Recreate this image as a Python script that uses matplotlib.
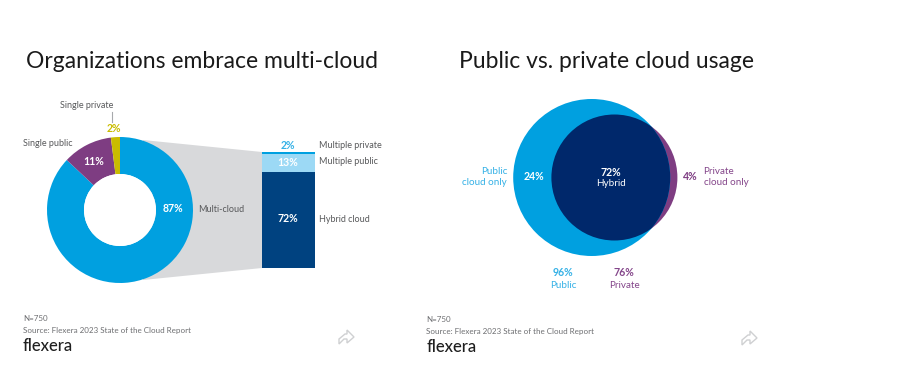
import matplotlib
matplotlib.use("Agg")
import matplotlib.pyplot as plt
from matplotlib.patches import Circle, Polygon

plt.rcParams["font.family"] = ["Lato", "DejaVu Sans"]

W, H = 900, 371

BLUE = "#00A0E0"
PURPLE = "#7E3D82"
YELLOW = "#C9BC00"
DARK_BAR = "#004280"
LIGHT_BAR = "#9CD9F5"
NAVY = "#00286B"
GREY = "#D8D9DB"
TEXT = "#58595B"
LABEL_BLUE = "#35B1E6"
LABEL_PURPLE = "#84468A"

titles = ["Organizations embrace multi-cloud", "Public vs. private cloud usage"]

donut_labels = ["Multi-cloud", "Single public", "Single private"]
donut_values = [87, 11, 2]
donut_colors = [BLUE, PURPLE, YELLOW]

bar_labels = ["Hybrid cloud", "Multiple public", "Multiple private"]
bar_values = [72, 13, 2]
bar_colors = [DARK_BAR, LIGHT_BAR, BLUE]

venn_values = {"public_only": 24, "hybrid": 72, "private_only": 4, "public": 96, "private": 76}

note = "N=750"
source = "Source: Flexera 2023 State of the Cloud Report"


def y_(y):
    return H - y


def label(x, y, s, size=6.5, color=TEXT, ha="left", weight="normal"):
    ax.text(x, y_(y), s, fontsize=size, color=color, ha=ha, va="center", fontweight=weight, zorder=6)


def pct(x, y, v, color="white"):
    label(x, y, f"{v}%", size=7.6, color=color, ha="center", weight="bold")


def share_icon(cx, cy):
    pts = [(-7, 7), (-7, 2), (-1, -3), (1, -3), (1, -7), (8, 0), (1, 6), (1, 2), (-2, 2)]
    ax.add_patch(Polygon([(cx + a, y_(cy + b)) for a, b in pts], closed=True,
                         fill=False, ec="#CFD0D2", lw=1))


fig = plt.figure(figsize=(W / 100, H / 100), dpi=100)
ax = fig.add_axes([0, 0, 1, 1])

# grey funnel behind the donut
ax.add_patch(Polygon([(143, y_(140)), (262, y_(152)), (262, y_(268)), (143, y_(280))],
                     closed=True, fc=GREY, ec="none", zorder=1))

ax.pie(donut_values, colors=donut_colors, startangle=90, counterclock=False,
       center=(120, y_(210)), radius=73, frame=True,
       wedgeprops=dict(width=37, linewidth=0, zorder=2))
ax.add_patch(Circle((120, y_(210)), 36, fc="white", ec="none", zorder=3))

# stacked bar, same height per percent as the multi-cloud share
scale = 116.6 / donut_values[0]
bottom = y_(268.3)
for v, c in zip(bar_values, bar_colors):
    ax.bar(288.5, v * scale, width=53, bottom=bottom, color=c, linewidth=0, zorder=3)
    bottom += v * scale

# venn: private circle, public circle, overlap clipped to the public circle
ax.add_patch(Circle((614.4, y_(177.5)), 63, fc=PURPLE, ec="none", zorder=2))
public = Circle((591.7, y_(177.5)), 78.5, fc=BLUE, ec="none", zorder=3)
ax.add_patch(public)
overlap = Circle((614.4, y_(177.5)), 63, fc=NAVY, ec="none", zorder=4)
ax.add_patch(overlap)
overlap.set_clip_path(public)

ax.set_xlim(0, W)
ax.set_ylim(0, H)
ax.set_aspect("equal")
ax.axis("off")

ax.text(26, y_(61), titles[0], fontsize=16.5, color="#1A1A1A", ha="left", va="center")
ax.text(459, y_(61), titles[1], fontsize=16.5, color="#1A1A1A", ha="left", va="center")

# donut labels
label(87, 106, donut_labels[2], ha="center")
ax.plot([112, 112], [y_(112), y_(122)], color="#A7A9AC", lw=0.8, zorder=5)
pct(114, 128, donut_values[2], YELLOW)
label(23, 143, donut_labels[1])
pct(94, 161.5, donut_values[1])
pct(172.7, 209, donut_values[0])
label(198, 209, donut_labels[0])

# bar labels
pct(288, 145.6, bar_values[2], LABEL_BLUE)
label(319, 146, bar_labels[2])
pct(288, 162, bar_values[1])
label(319, 162, bar_labels[1])
pct(288, 218, bar_values[0])
label(319, 219, bar_labels[0])

# venn labels
pct(611, 172.7, venn_values["hybrid"])
label(611, 184, "Hybrid", size=7.1, color="white", ha="center")
pct(534, 176.7, venn_values["public_only"])
pct(690.7, 177, venn_values["private_only"], PURPLE)
label(703.5, 171, "Private", size=7.1, color=LABEL_PURPLE)
label(703.5, 182.5, "cloud only", size=7.1, color=LABEL_PURPLE)
label(507, 171, "Public", size=7.1, color=LABEL_BLUE, ha="right")
label(507, 182.5, "cloud only", size=7.1, color=LABEL_BLUE, ha="right")
pct(563, 272.7, venn_values["public"], LABEL_BLUE)
label(563, 285, "Public", size=7.1, color=LABEL_BLUE, ha="center")
pct(624, 272.7, venn_values["private"], LABEL_PURPLE)
label(624, 285, "Private", size=7.1, color=LABEL_PURPLE, ha="center")

# footers
for x, y0 in [(23, 318.7), (426.5, 320)]:
    label(x, y0, note, size=5.8, color="#6D6E71")
    label(x, y0 + 11.5, source, size=5.8, color="#6D6E71")
    label(x, y0 + 27, "flexera", size=12, color="#1F1F1F", weight="medium")

share_icon(346, 337)
share_icon(749, 338)

fig.savefig("out.png", dpi=100)
